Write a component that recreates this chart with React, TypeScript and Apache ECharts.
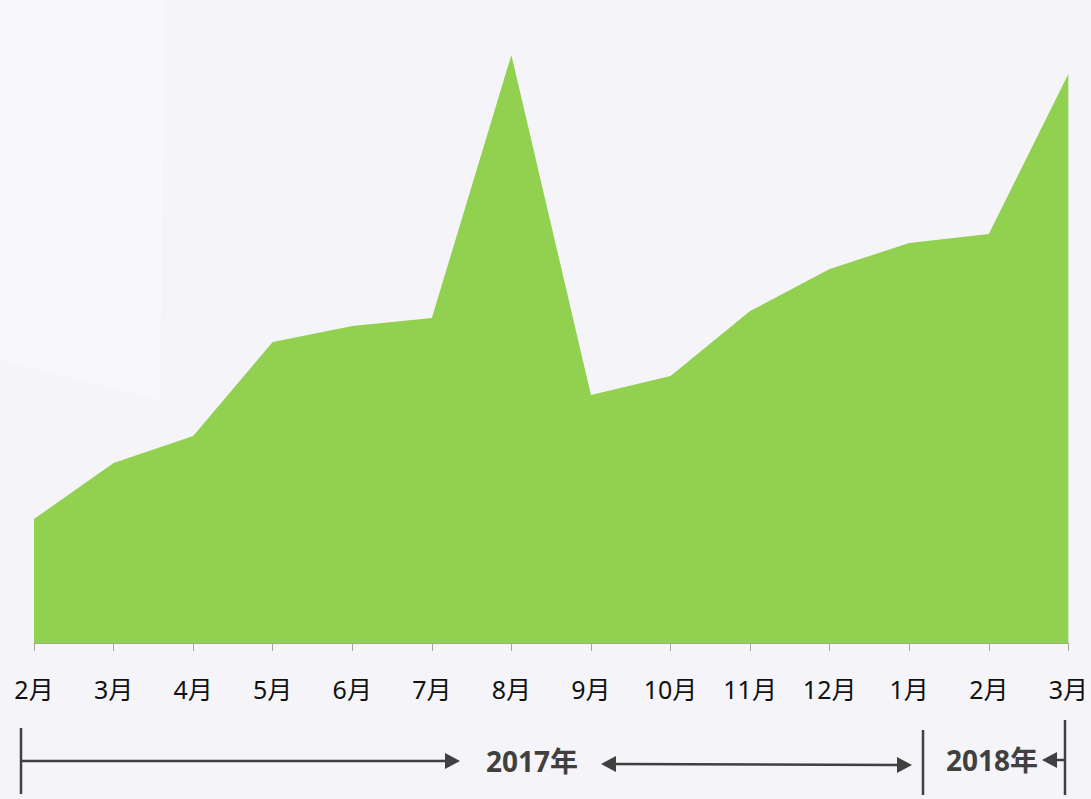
import React, { useEffect, useRef } from "react";
import * as echarts from "echarts";

const months = ["2月", "3月", "4月", "5月", "6月", "7月", "8月", "9月", "10月", "11月", "12月", "1月", "2月", "3月"];
const values = [124, 180, 207, 301, 317, 325, 588, 248, 267, 332, 374, 400, 409, 569];
const yearLabels = ["2017年", "2018年"];

const ink = "#404040";

export default function App() {
  const ref = useRef<HTMLDivElement>(null);
  useEffect(() => {
    document.body.style.margin = "0";
    const chart = echarts.init(ref.current!, null, { renderer: "svg" });
    const arrowHead = (tipX: number, y: number, dir: number) => ({
      type: "polygon",
      shape: { points: [[tipX, y], [tipX - dir * 15, y - 8], [tipX - dir * 15, y + 8]] },
      style: { fill: ink },
      silent: true,
    });
    const vline = (x: number, y1: number, y2: number) => ({
      type: "line",
      shape: { x1: x, y1, x2: x, y2 },
      style: { stroke: ink, lineWidth: 2.5 },
      silent: true,
    });
    const hline = (x1: number, x2: number, y1: number, y2: number) => ({
      type: "line",
      shape: { x1, y1, x2, y2 },
      style: { stroke: ink, lineWidth: 2.5 },
      silent: true,
    });
    chart.setOption({
      animation: false,
      backgroundColor: "#f5f5f9",
      grid: { left: 34, right: 19, top: 43, bottom: 156 },
      xAxis: {
        type: "category",
        data: months,
        boundaryGap: false,
        axisLine: { lineStyle: { color: "#a6a6a6", width: 1 } },
        axisTick: { show: true, length: 8, lineStyle: { color: "#a6a6a6" }, alignWithLabel: true },
        axisLabel: {
          color: "#111",
          fontSize: 25,
          margin: 33,
          fontFamily: "'Noto Sans', 'Noto Sans CJK SC'",
          interval: 0,
        },
        splitLine: { show: false },
      },
      yAxis: {
        type: "value",
        min: 0,
        max: 600,
        show: false,
        splitLine: { show: false },
      },
      series: [
        {
          type: "line",
          data: values,
          symbol: "none",
          lineStyle: { width: 0, color: "#92d050" },
          areaStyle: { color: "#92d050", opacity: 1 },
          itemStyle: { color: "#92d050" },
        },
      ],
      graphic: [
        {
          type: "polygon",
          z: -10,
          shape: { points: [[0, 0], [165, 0], [160, 400], [0, 360]] },
          style: { fill: "#f8f8fa" },
          silent: true,
        },
        vline(21, 728, 794),
        hline(21, 446, 761, 761),
        arrowHead(460, 761, 1),
        {
          type: "text",
          left: 486,
          top: 747,
          style: { text: yearLabels[0], fill: ink, font: "bold 28px 'Noto Sans', 'Noto Sans CJK SC'" },
          silent: true,
        },
        hline(614, 898, 764, 765),
        arrowHead(601, 764, -1),
        arrowHead(912, 765, 1),
        vline(923, 730, 795),
        {
          type: "text",
          left: 946,
          top: 746,
          style: { text: yearLabels[1], fill: ink, font: "bold 28px 'Noto Sans', 'Noto Sans CJK SC'" },
          silent: true,
        },
        arrowHead(1042, 760, -1),
        hline(1056, 1065, 760, 760),
        vline(1065, 720, 795),
      ],
    });
    return () => chart.dispose();
  }, []);
  return <div ref={ref} style={{ width: 1091, height: 799 }} />;
}
